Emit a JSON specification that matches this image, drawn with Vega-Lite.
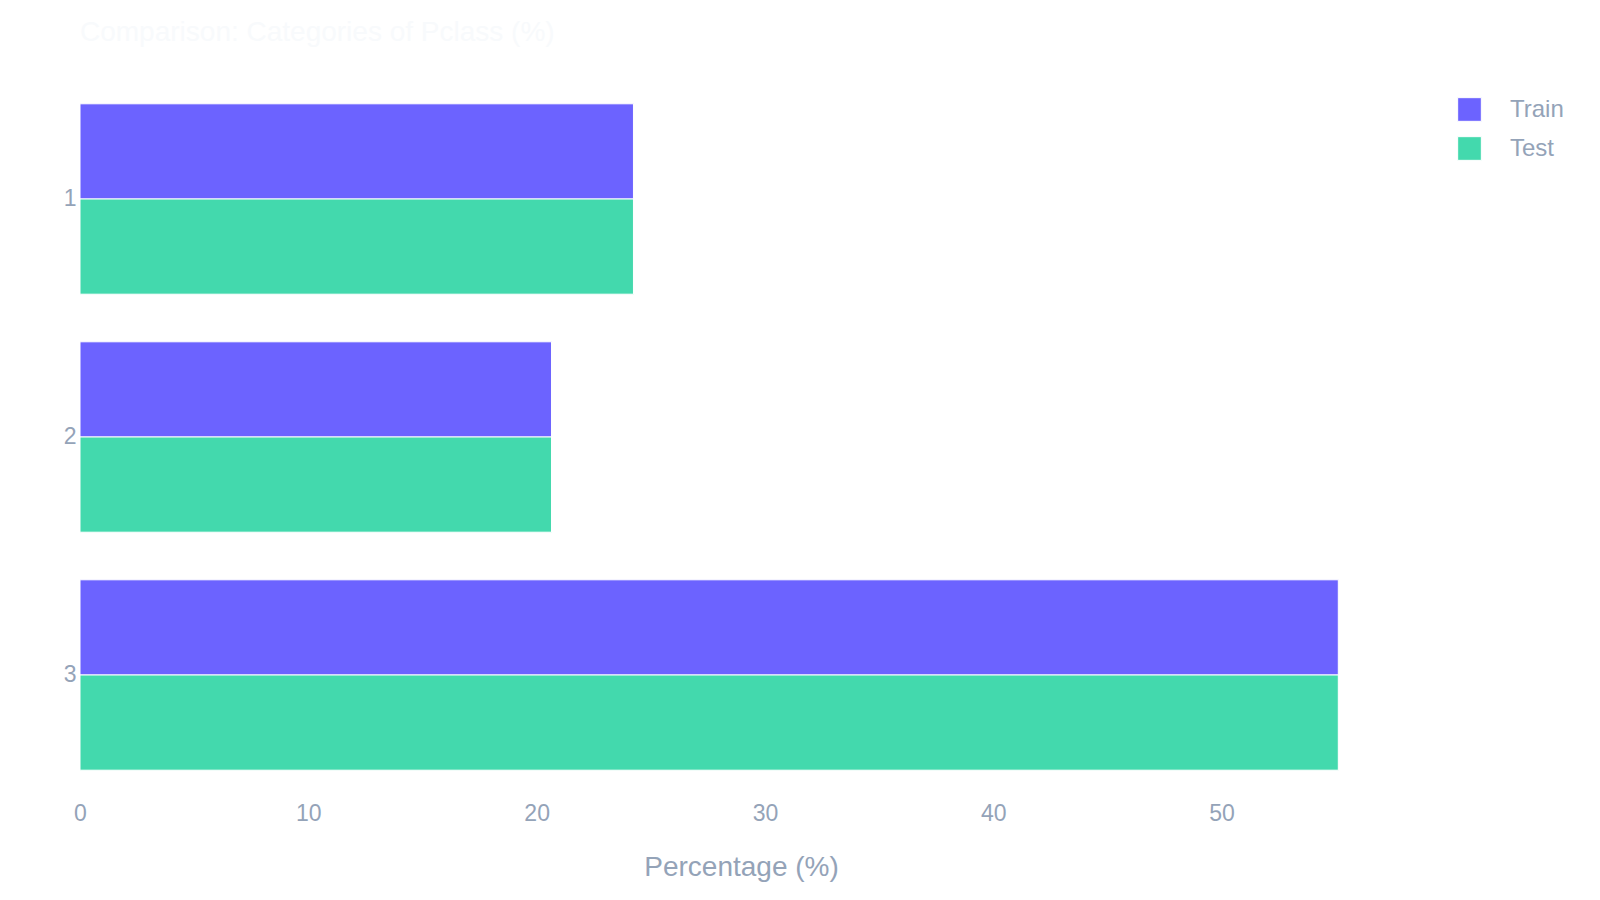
{
  "$schema": "https://vega.github.io/schema/vega-lite/v6.json",
  "autosize": {"type": "none"},
  "width": 1322,
  "height": 714,
  "padding": {"left": 80, "top": 80, "right": 198, "bottom": 106},
  "background": "white",
  "title": {
    "text": "Comparison: Categories of Pclass (%)",
    "anchor": "start",
    "frame": "group",
    "offset": 33,
    "font": "Liberation Sans",
    "fontSize": 28,
    "fontWeight": "normal",
    "color": "#f8fafc"
  },
  "data": {
    "values": [
      {"Pclass": "1", "Dataset": "Train", "Percentage": 24.24},
      {"Pclass": "1", "Dataset": "Test", "Percentage": 24.24},
      {"Pclass": "2", "Dataset": "Train", "Percentage": 20.65},
      {"Pclass": "2", "Dataset": "Test", "Percentage": 20.65},
      {"Pclass": "3", "Dataset": "Train", "Percentage": 55.11},
      {"Pclass": "3", "Dataset": "Test", "Percentage": 55.11}
    ]
  },
  "mark": {"type": "bar", "stroke": "#ffffff", "strokeWidth": 1},
  "encoding": {
    "y": {
      "field": "Pclass",
      "type": "nominal",
      "sort": ["1", "2", "3"],
      "scale": {"paddingInner": 0.2, "paddingOuter": 0.1},
      "axis": {
        "title": null,
        "ticks": false,
        "domain": false,
        "grid": false,
        "labelPadding": 4,
        "labelFont": "Liberation Sans",
        "labelFontSize": 23,
        "labelColor": "#94a3b8"
      }
    },
    "yOffset": {
      "field": "Dataset",
      "type": "nominal",
      "sort": ["Train", "Test"],
      "scale": {"paddingInner": 0, "paddingOuter": 0}
    },
    "x": {
      "field": "Percentage",
      "type": "quantitative",
      "scale": {"domain": [0, 57.9], "nice": false, "zero": true},
      "axis": {
        "title": "Percentage (%)",
        "values": [0, 10, 20, 30, 40, 50],
        "ticks": false,
        "domain": false,
        "grid": false,
        "labelFlush": false,
        "labelPadding": 8,
        "labelFont": "Liberation Sans",
        "labelFontSize": 23,
        "labelColor": "#94a3b8",
        "titleFont": "Liberation Sans",
        "titleFontSize": 28,
        "titleFontWeight": "normal",
        "titleColor": "#94a3b8",
        "titlePadding": 28
      }
    },
    "color": {
      "field": "Dataset",
      "type": "nominal",
      "sort": ["Train", "Test"],
      "scale": {"domain": ["Train", "Test"], "range": ["#6c63ff", "#43d9ad"]},
      "legend": {
        "title": null,
        "orient": "none",
        "legendX": 1377,
        "legendY": 17,
        "symbolType": "square",
        "symbolSize": 560,
        "symbolStrokeWidth": 1,
        "symbolStrokeColor": "#ffffff",
        "labelOffset": 28,
        "rowPadding": 10,
        "labelFont": "Liberation Sans",
        "labelFontSize": 24,
        "labelColor": "#94a3b8"
      }
    }
  },
  "config": {"view": {"stroke": null}}
}
